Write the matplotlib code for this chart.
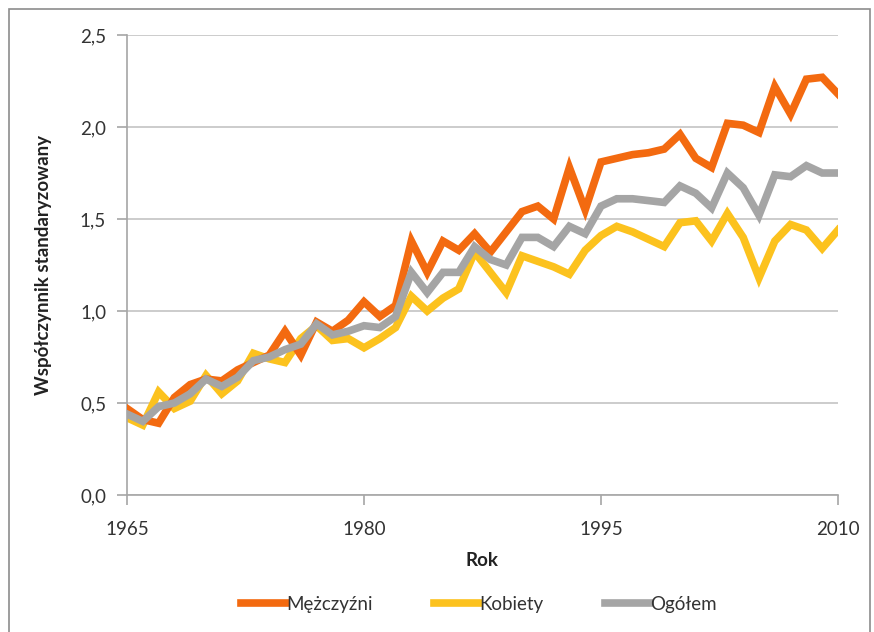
import matplotlib
matplotlib.use('Agg')
from matplotlib import pyplot as plt
from matplotlib.patches import Rectangle

years = list(range(1965, 2011))

men = [0.47, 0.41, 0.39, 0.53, 0.60, 0.63, 0.62, 0.68, 0.72, 0.76,
       0.89, 0.76, 0.94, 0.89, 0.95, 1.05, 0.97, 1.03, 1.38, 1.21,
       1.38, 1.33, 1.42, 1.32, 1.43, 1.54, 1.57, 1.50, 1.78, 1.55,
       1.81, 1.83, 1.85, 1.86, 1.88, 1.96, 1.83, 1.78, 2.02, 2.01,
       1.97, 2.22, 2.07, 2.26, 2.27, 2.18]

women = [0.42, 0.38, 0.56, 0.47, 0.51, 0.65, 0.55, 0.62, 0.77, 0.74,
         0.72, 0.85, 0.92, 0.84, 0.85, 0.80, 0.85, 0.91, 1.08, 1.00,
         1.07, 1.12, 1.32, 1.21, 1.10, 1.30, 1.27, 1.24, 1.20, 1.33,
         1.41, 1.46, 1.43, 1.39, 1.35, 1.48, 1.49, 1.38, 1.53, 1.40,
         1.18, 1.38, 1.47, 1.44, 1.34, 1.44]

total = [0.44, 0.40, 0.48, 0.50, 0.55, 0.63, 0.59, 0.64, 0.73, 0.75,
         0.79, 0.82, 0.93, 0.87, 0.89, 0.92, 0.91, 0.97, 1.21, 1.10,
         1.21, 1.21, 1.35, 1.28, 1.25, 1.40, 1.40, 1.35, 1.46, 1.42,
         1.57, 1.61, 1.61, 1.60, 1.59, 1.68, 1.64, 1.56, 1.75, 1.67,
         1.52, 1.74, 1.73, 1.79, 1.75, 1.75]

plt.rcParams['font.family'] = ['Lato', 'DejaVu Sans']

fig = plt.figure(figsize=(8.74, 6.32), dpi=100)
fig.patches.append(Rectangle((0.010, -0.01), 0.985, 0.995, transform=fig.transFigure,
                             fill=False, edgecolor='#8c8c8c', linewidth=1.2))
ax = fig.add_axes([0.1453, 0.2168, 0.8135, 0.7278])

ax.plot(years, men, color='#F36A10', linewidth=5.5, label='Mężczyźni', solid_joinstyle='miter', zorder=3)
ax.plot(years, women, color='#FCC21E', linewidth=5.5, label='Kobiety', solid_joinstyle='miter', zorder=2)
ax.plot(years, total, color='#A5A5A5', linewidth=5.5, label='Ogółem', solid_joinstyle='miter', zorder=4)

ax.set_xlim(1965, 2010)
ax.set_ylim(0, 2.5)
ax.set_xticks([1965, 1980, 1995, 2010])
ax.set_yticks([0, 0.5, 1.0, 1.5, 2.0, 2.5])
ax.set_yticklabels(['0,0', '0,5', '1,0', '1,5', '2,0', '2,5'])
ax.yaxis.grid(True, color='#c4c4c4', linewidth=1.2)
ax.set_axisbelow(True)

for side in ['top', 'right']:
    ax.spines[side].set_visible(False)
for side in ['left', 'bottom']:
    ax.spines[side].set_color('#a6a6a6')
    ax.spines[side].set_linewidth(1.2)
ax.tick_params(axis='both', colors='#a6a6a6', length=7, width=1.2, labelsize=13.5,
               labelcolor='#333333')
ax.tick_params(axis='y', pad=8)
ax.tick_params(axis='x', pad=12)

ax.set_xlabel('Rok', fontsize=13.5, fontweight='bold', color='#222222', labelpad=10)
ax.set_ylabel('Współczynnik standaryzowany', fontsize=13.5, fontweight='bold', color='#222222', labelpad=20)

fig.legend(loc='center', bbox_to_anchor=(0.548, 0.044), ncol=3, frameon=False, fontsize=13.5,
           handlelength=2.4, handletextpad=0.0, columnspacing=3.3, labelcolor='#333333')

plt.savefig('out.png', dpi=100)
plt.close()
